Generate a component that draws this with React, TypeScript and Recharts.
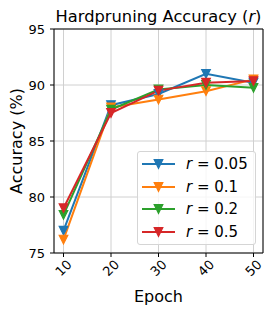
import React from 'react';
import {
  LineChart,
  Line,
  XAxis,
  YAxis,
  CartesianGrid,
  ReferenceArea,
} from 'recharts';

const epochs = [10, 20, 30, 40, 50];
const accR005 = [77.0, 88.2, 89.2, 91.0, 90.2];
const accR01 = [76.2, 88.0, 88.7, 89.45, 90.5];
const accR02 = [78.4, 87.8, 89.6, 90.0, 89.75];
const accR05 = [79.0, 87.5, 89.5, 90.2, 90.35];
const yTicks = [75, 80, 85, 90, 95];

const seriesList = [
  { key: 'r005', label: '0.05', color: '#1f77b4', values: accR005 },
  { key: 'r01', label: '0.1', color: '#ff7f0e', values: accR01 },
  { key: 'r02', label: '0.2', color: '#2ca02c', values: accR02 },
  { key: 'r05', label: '0.5', color: '#d62728', values: accR05 },
];

const rows = epochs.map((epoch, i) => {
  const row: Record<string, number> = { epoch };
  seriesList.forEach((s) => {
    row[s.key] = s.values[i];
  });
  return row;
});

const FONT = '"DejaVu Sans", sans-serif';

// matplotlib 'v' marker
const triangle = (color: string) => (props: any) => {
  const { cx, cy, index } = props;
  if (cx == null || cy == null) return <g key={index} />;
  const h = 4.3;
  return (
    <path
      key={index}
      d={`M${cx - h},${cy - h}L${cx + h},${cy - h}L${cx},${cy + h}Z`}
      fill={color}
      stroke={color}
      strokeWidth={1.2}
    />
  );
};

const XTick = (props: any) => {
  const { x, y, payload } = props;
  const cy = y + 9;
  return (
    <text
      x={x}
      y={cy}
      textAnchor="middle"
      dominantBaseline="central"
      transform={`rotate(-45, ${x}, ${cy})`}
      fontSize={13}
      fontFamily={FONT}
      fill="#000"
    >
      {payload.value}
    </text>
  );
};

const LegendBox = () => (
  <div
    style={{
      position: 'absolute',
      left: 137,
      top: 151,
      width: 119,
      height: 94,
      boxSizing: 'border-box',
      background: 'rgba(255,255,255,0.8)',
      border: '1px solid #d5d5d5',
      borderRadius: 3,
      fontFamily: FONT,
      fontSize: 15,
    }}
  >
    {seriesList.map((s, i) => (
      <div
        key={s.key}
        style={{
          position: 'absolute',
          left: 0,
          top: 1 + i * 22.6,
          height: 22.6,
          width: '100%',
          display: 'flex',
          alignItems: 'center',
        }}
      >
        <svg width={48} height={22} style={{ flex: 'none' }}>
          <line x1={4} x2={37} y1={11} y2={11} stroke={s.color} strokeWidth={2} />
          <path
            d={`M${20.5 - 4.3},${11 - 4.3}L${20.5 + 4.3},${11 - 4.3}L20.5,${11 + 4.3}Z`}
            fill={s.color}
            stroke={s.color}
            strokeWidth={1.2}
          />
        </svg>
        <span style={{ whiteSpace: 'pre' }}>
          <i>r</i> = {s.label}
        </span>
      </div>
    ))}
  </div>
);

export default function App() {
  return (
    <div style={{ position: 'absolute', left: 0, top: 0, width: 277, height: 312, background: '#fff' }}>
      <div
        style={{
          position: 'absolute',
          left: 54,
          top: 6,
          width: 209,
          height: 22,
          lineHeight: '22px',
          textAlign: 'center',
          fontFamily: FONT,
          fontSize: 16.3,
          whiteSpace: 'nowrap',
        }}
      >
        Hardpruning Accuracy (<i>r</i>)
      </div>
      <LineChart
        width={277}
        height={312}
        data={rows}
        margin={{ top: 29, right: 14, bottom: 0, left: 0 }}
      >
        <CartesianGrid stroke="#d0d0d0" strokeWidth={1} />
        <XAxis
          dataKey="epoch"
          type="number"
          domain={[8, 52]}
          ticks={epochs}
          height={59}
          axisLine={false}
          tickLine={{ stroke: '#000' }}
          tickSize={4}
          tickMargin={2}
          tick={<XTick />}
          interval={0}
          label={{
            value: 'Epoch',
            position: 'insideBottom',
            offset: 10,
            style: { fontSize: 16, fontFamily: FONT, fill: '#000' },
          }}
        />
        <YAxis
          type="number"
          domain={[75, 95]}
          ticks={yTicks}
          width={54}
          axisLine={false}
          tickLine={{ stroke: '#000' }}
          tickSize={4}
          tickMargin={5}
          tick={{ fontSize: 13, fontFamily: FONT, fill: '#000' }}
          interval={0}
          label={{
            value: 'Accuracy (%)',
            angle: -90,
            position: 'insideLeft',
            offset: 0,
            dx: 16,
            style: { fontSize: 16, fontFamily: FONT, fill: '#000', textAnchor: 'middle' },
          }}
        />
        <ReferenceArea x1={8} x2={52} y1={75} y2={95} fill="none" stroke="#000" strokeWidth={1} />
        {seriesList.map((s) => (
          <Line
            key={s.key}
            dataKey={s.key}
            stroke={s.color}
            strokeWidth={2}
            dot={triangle(s.color)}
            activeDot={false}
            isAnimationActive={false}
          />
        ))}
      </LineChart>
      <LegendBox />
    </div>
  );
}
